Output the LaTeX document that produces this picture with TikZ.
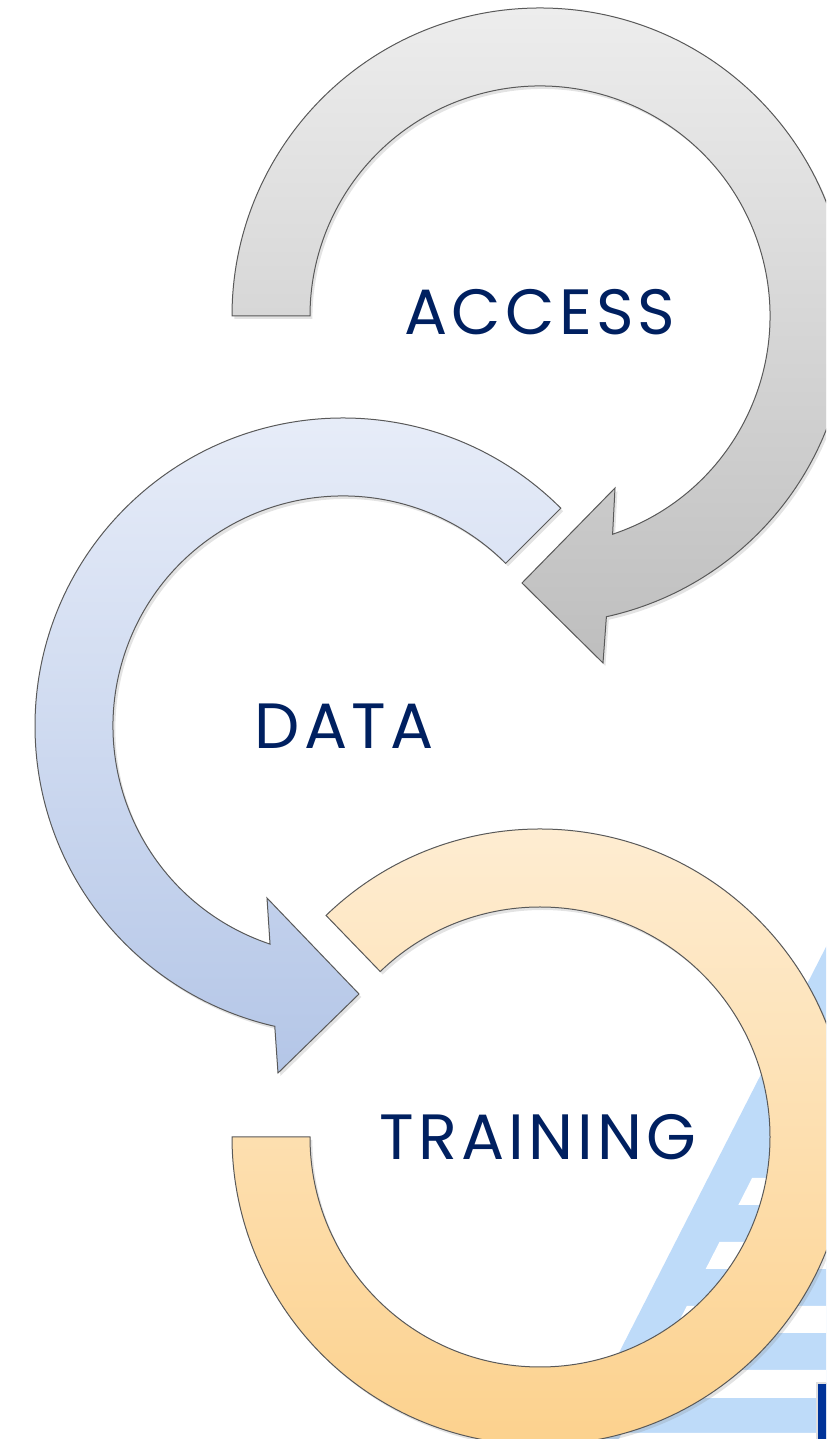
\documentclass[tikz,border=0pt]{standalone}
\usepackage{fontspec}
\setmainfont{Poppins}
\newfontfamily\labelfont[LetterSpace=6.5]{Poppins}
\usetikzlibrary{calc,shadows}
\definecolor{navy}{HTML}{002060}
\definecolor{stripeblue}{RGB}{190,219,249}
\definecolor{logoblue}{RGB}{0,51,153}
\definecolor{graytop}{RGB}{237,237,237}
\definecolor{graybot}{RGB}{190,190,190}
\definecolor{bluetop}{RGB}{233,238,249}
\definecolor{bluebot}{RGB}{180,198,231}
\definecolor{orangetop}{RGB}{254,238,213}
\definecolor{orangebot}{RGB}{252,208,138}
\begin{document}
\begin{tikzpicture}[x=0.5pt,y=0.5pt,
  band/.style={draw=black!65, line width=0.5pt,
    drop shadow={opacity=0.22, shadow xshift=1.2pt, shadow yshift=-1.5pt}},
  steplabel/.style={text=navy, font=\labelfont\fontsize{32}{38}\selectfont, anchor=base, inner sep=0pt}]
\useasboundingbox (0,0) rectangle (826,1439);
\clip (0,0) rectangle (826,1439);

% striped logo in the lower right corner
\fill[stripeblue] (575,0) -- (829,498) -- (830,0) -- cycle;
\foreach \ya/\yb in {234/261, 170/197, 106/133, 41/69, -21/6}{
  \fill[white] ({619+0.51*\ya},\ya) -- ({619+0.51*\yb},\yb) -- (830,\yb) -- (830,\ya) -- cycle;
}
\filldraw[fill=logoblue, draw=gray!25, line width=0.6pt] (817,-2) rectangle (830,56);

% centres of the three rings
\coordinate (gc) at (540,1123);
\coordinate (bc) at (343,713);
\coordinate (oc) at (540,302);

% ACCESS: grey arrow, clockwise from the left end to a head pointing down-left
\path[band, top color=graytop, bottom color=graybot]
  ($(gc)+(180:308)$) arc[start angle=180, end angle=-77.55, radius=308]
  -- (603,776) -- (522,856) -- (615,951)
  -- ($(gc)+(-71.6:230)$) arc[start angle=-71.6, end angle=180, radius=230]
  -- cycle;

% DATA: blue arrow, counter-clockwise with its head pointing down-right
\path[band, top color=bluetop, bottom color=bluebot]
  ($(bc)+(45:308)$) arc[start angle=45, end angle=257.2, radius=308]
  -- (278,366) -- (359,445) -- (267,541)
  -- ($(bc)+(251.5:230)$) arc[start angle=251.5, end angle=45, radius=230]
  -- cycle;

% TRAINING: open orange ring
\path[band, top color=orangetop, bottom color=orangebot]
  ($(oc)+(134:308)$) arc[start angle=134, end angle=-180, radius=308]
  -- ($(oc)+(180:230)$) arc[start angle=-180, end angle=134, radius=230]
  -- cycle;

\node[steplabel] (access) at (540,1104) {ACCESS};
\node[steplabel] (data) at (344,690) {DATA};
\node[steplabel] (training) at (538,279) {TRAINING};
\end{tikzpicture}
\end{document}
